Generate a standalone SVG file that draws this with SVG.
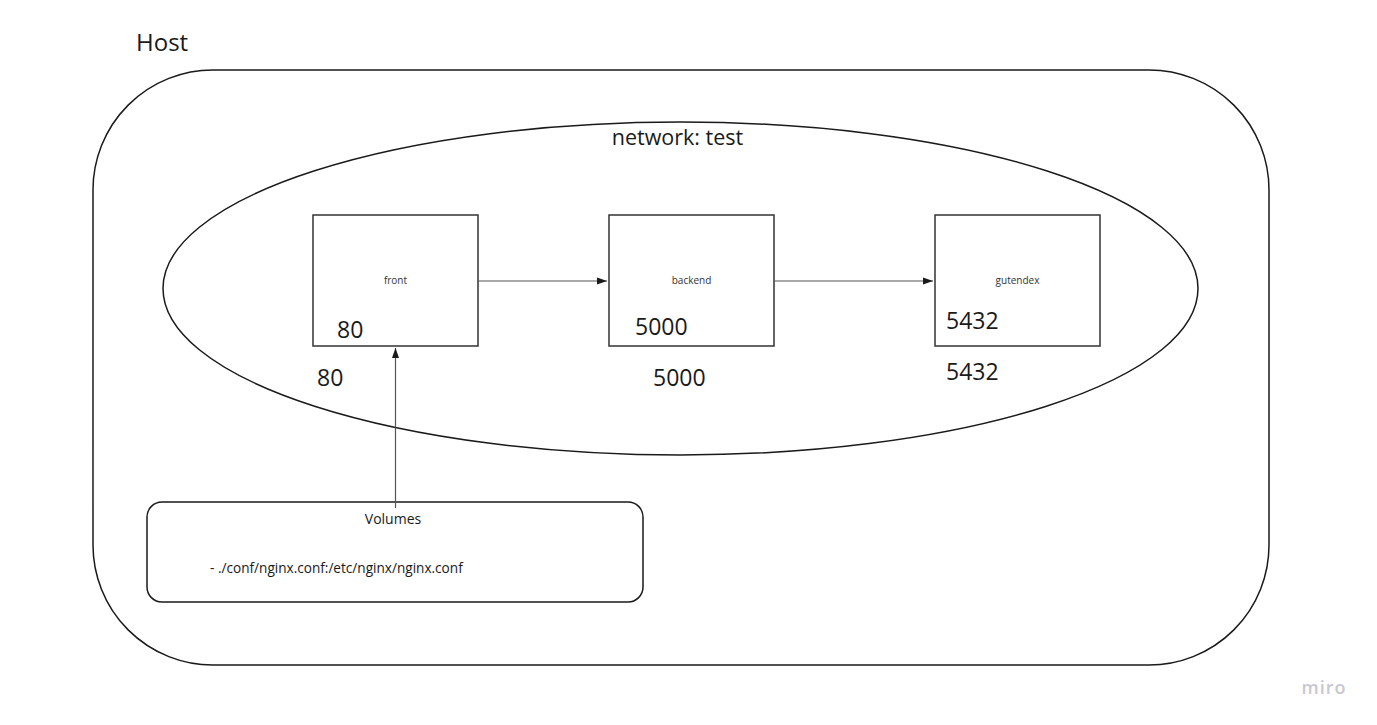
<svg xmlns="http://www.w3.org/2000/svg" width="1377" height="725" viewBox="0 0 1377 725">
<style>
text{font-family:"Open Sans","Liberation Sans",sans-serif;fill:#1a1a1a}
.shape{fill:none;stroke:#1a1a1a;stroke-width:1.5}
.box{fill:#fff;stroke:#333;stroke-width:1.5}
.conn{stroke:#555;stroke-width:1.2;fill:none}
.lbl{font-size:10px;fill:#333}
.num{font-size:23px}
</style>
<defs>
<marker id="arr" viewBox="0 0 10 10" refX="10" refY="5" markerWidth="10" markerHeight="10" markerUnits="userSpaceOnUse" orient="auto">
<path d="M0,1.5 L10,5 L0,8.5 z" fill="#1a1a1a"/>
</marker>
</defs>
<rect width="1377" height="725" fill="#fff"/>
<g id="host">
<rect class="shape" x="93" y="70" width="1176" height="595" rx="120" ry="120"/>
<text x="136" y="51" font-size="24">Host</text>
</g>
<g id="network">
<ellipse class="shape" cx="680.5" cy="288.5" rx="517.5" ry="166.5"/>
<text x="677.5" y="145" font-size="21.5" text-anchor="middle">network: test</text>
</g>
<g id="front">
<rect class="box" x="313" y="215" width="165" height="131"/>
<text class="lbl" x="395.5" y="284" text-anchor="middle">front</text>
<text class="num" x="337" y="338">80</text>
<text class="num" x="317" y="386">80</text>
</g>
<g id="backend">
<rect class="box" x="609" y="215" width="165" height="131"/>
<text class="lbl" x="691.5" y="284" text-anchor="middle">backend</text>
<text class="num" x="635" y="335">5000</text>
<text class="num" x="653" y="386">5000</text>
</g>
<g id="gutendex">
<rect class="box" x="935" y="215" width="165" height="131"/>
<text class="lbl" x="1017.5" y="284" text-anchor="middle">gutendex</text>
<text class="num" x="946" y="329">5432</text>
<text class="num" x="946" y="380">5432</text>
</g>
<g id="volumes">
<rect class="shape" x="147" y="502" width="496" height="100" rx="15" ry="15"/>
<text x="393" y="524" font-size="14" text-anchor="middle">Volumes</text>
<text x="210" y="573" font-size="13.6">- ./conf/nginx.conf:/etc/nginx/nginx.conf</text>
</g>
<g id="connectors">
<line class="conn" x1="478" y1="281" x2="607" y2="281" marker-end="url(#arr)"/>
<line class="conn" x1="774" y1="281" x2="933" y2="281" marker-end="url(#arr)"/>
<line class="conn" x1="395.5" y1="508" x2="395.5" y2="348" marker-end="url(#arr)"/>
</g>
<text x="1324" y="694" font-size="18" font-weight="600" style="fill:#c8c8d0;letter-spacing:1px" text-anchor="middle">miro</text>
</svg>
